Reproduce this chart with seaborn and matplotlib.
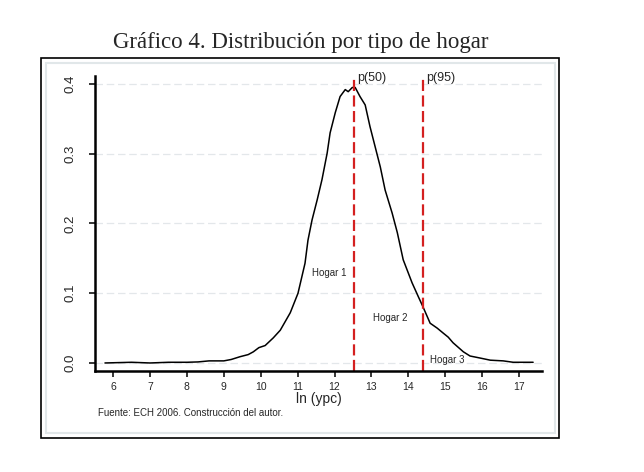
import pandas as pd
import matplotlib
matplotlib.use("Agg")
import matplotlib.pyplot as plt
from matplotlib.patches import Rectangle
import seaborn as sns

# Data
ln_ypc = [5.78, 6.5, 7.0, 7.5, 8.0, 8.3, 8.6, 9.0, 9.2, 9.44, 9.66, 9.8, 9.95,
          10.12, 10.34, 10.53, 10.80, 11.01, 11.20, 11.28, 11.39, 11.53, 11.66,
          11.80, 11.88, 12.02, 12.15, 12.29, 12.37, 12.48, 12.56, 12.69, 12.83,
          12.96, 13.10, 13.24, 13.37, 13.56, 13.70, 13.86, 14.10, 14.27, 14.40,
          14.59, 14.78, 14.94, 15.08, 15.21, 15.49, 15.67, 15.95, 16.22, 16.57,
          16.84, 17.38]
density = [0.0, 0.001, 0.0, 0.001, 0.001, 0.0015, 0.003, 0.003, 0.005, 0.009,
           0.012, 0.016, 0.022, 0.025, 0.036, 0.047, 0.072, 0.100, 0.143, 0.176,
           0.205, 0.234, 0.263, 0.301, 0.33, 0.359, 0.382, 0.392, 0.389, 0.395,
           0.395, 0.382, 0.37, 0.339, 0.31, 0.281, 0.248, 0.215, 0.187, 0.148,
           0.115, 0.095, 0.080, 0.057, 0.050, 0.043, 0.037, 0.029, 0.016, 0.010,
           0.007, 0.004, 0.003, 0.001, 0.001]

percentiles = {"p(50)": 12.53, "p(95)": 14.40}
groups = ["Hogar 1", "Hogar 2", "Hogar 3"]
group_x = [11.85, 13.51, 15.05]
group_y = [0.129, 0.065, 0.004]

x_ticks = list(range(6, 18))
y_ticks = [0.0, 0.1, 0.2, 0.3, 0.4]


def main():
    sns.set_style("white")
    plt.rcParams["font.family"] = ["Liberation Sans", "DejaVu Sans"]

    df = pd.DataFrame({"x": ln_ypc, "y": density})

    fig = plt.figure(figsize=(6.44, 4.72), dpi=100)
    ax = fig.add_axes([0.1475, 0.214, 0.6941, 0.625])

    # frame around the graph region
    fig.add_artist(Rectangle((0.0637, 0.072), 0.8043, 0.805, transform=fig.transFigure,
                             fill=False, edgecolor="black", linewidth=1.2))
    fig.add_artist(Rectangle((0.0714, 0.0826), 0.7904, 0.784, transform=fig.transFigure,
                             fill=False, edgecolor="#e1e7e9", linewidth=1.5))

    for yt in y_ticks:
        ax.axhline(yt, color="#e3e7ea", linewidth=0.9, linestyle=(0, (6, 3)), zorder=0)

    sns.lineplot(data=df, x="x", y="y", ax=ax, color="black", linewidth=1.1,
                 sort=False, estimator=None)

    for name, xv in percentiles.items():
        ax.axvline(xv, color="#d42020", linewidth=1.6, linestyle=(0, (5, 2)))
        ax.text(xv + 0.08, 0.409, name, fontsize=9, va="center", ha="left")

    for name, gx, gy in zip(groups, group_x, group_y):
        ax.text(gx, gy, name, fontsize=7, ha="center", va="center")

    ax.set_xlim(5.51, 17.62)
    ax.set_ylim(-0.0115, 0.4115)
    ax.set_xticks(x_ticks)
    ax.set_yticks(y_ticks)
    ax.set_yticklabels([f"{v:.1f}" for v in y_ticks], rotation=90, va="center", fontsize=9.5)
    ax.tick_params(axis="x", labelsize=7.5, length=4, width=1.3, direction="out", pad=4)
    ax.tick_params(axis="y", length=4, width=1.3, direction="out", pad=9)
    ax.tick_params(bottom=True, left=True)
    ax.set_xlabel("ln (ypc)", fontsize=10, labelpad=0)
    ax.set_ylabel("")

    sns.despine(ax=ax)
    for side in ["left", "bottom"]:
        ax.spines[side].set_linewidth(1.8)
        ax.spines[side].set_color("black")

    fig.text(0.467, 0.911, "Gráfico 4. Distribución por tipo de hogar",
             family=["Liberation Serif", "DejaVu Serif"], fontsize=16.5,
             ha="center", va="center")
    fig.text(0.152, 1 - 413 / 472, "Fuente: ECH 2006. Construcción del autor.",
             fontsize=7, ha="left", va="center")

    fig.savefig("out.png", dpi=100)


if __name__ == "__main__":
    main()
